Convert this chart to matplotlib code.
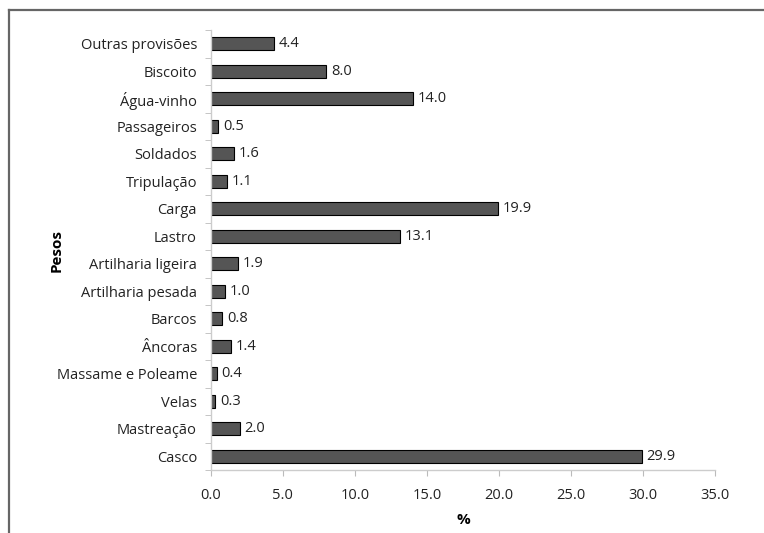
import numpy as np
import matplotlib.pyplot as plt
from matplotlib.lines import Line2D

plt.rcParams["font.family"] = ["Open Sans", "DejaVu Sans"]

categorias = [
    "Casco", "Mastreação", "Velas", "Massame e Poleame", "Âncoras",
    "Barcos", "Artilharia pesada", "Artilharia ligeira", "Lastro", "Carga",
    "Tripulação", "Soldados", "Passageiros", "Água-vinho", "Biscoito",
    "Outras provisões",
]
percentagens = [29.9, 2.0, 0.3, 0.4, 1.4, 0.8, 1.0, 1.9, 13.1, 19.9,
                1.1, 1.6, 0.5, 14.0, 8.0, 4.4]
xticks = [0, 5, 10, 15, 20, 25, 30, 35]

fig = plt.figure(figsize=(7.64, 5.33), dpi=100)
ax = fig.add_axes([0.276, 0.118, 0.66, 0.8255])

y = np.arange(len(categorias))
ax.barh(y, percentagens, height=0.48, color="#555555",
        edgecolor="black", linewidth=0.8)

for yi, v in zip(y, percentagens):
    ax.annotate(f"{v:.1f}", (v, yi), xytext=(3.5, 0), textcoords="offset points",
                va="center", ha="left", fontsize=10.5, color="#222222")

ax.set_ylim(-0.5, len(categorias) - 0.5)
ax.set_xlim(0, 35)
ax.set_yticks(y)
ax.set_yticklabels(categorias, fontsize=10.5, color="#222222")
ax.set_yticks(np.arange(-0.5, len(categorias), 1.0), minor=True)
ax.tick_params(axis="y", which="major", length=0, pad=10)
ax.tick_params(axis="y", which="minor", length=4, color="#bbbbbb", direction="out")
ax.set_xticks(xticks)
ax.set_xticklabels([f"{t:.1f}" for t in xticks], fontsize=10.5, color="#222222")
ax.tick_params(axis="x", length=4, color="#bbbbbb", pad=9)

for side in ("top", "right"):
    ax.spines[side].set_visible(False)
for side in ("left", "bottom"):
    ax.spines[side].set_color("#cccccc")
    ax.spines[side].set_linewidth(1.0)

ax.set_xlabel("%", fontsize=11, fontweight="bold", labelpad=7)
ax.set_ylabel("Pesos", fontsize=11, fontweight="bold")
ax.yaxis.set_label_coords(-0.292, 0.5)

# moldura: só os lados superior e esquerdo ficam visíveis
x0, y0 = 9 / 764, 1 - 10 / 533
fig.add_artist(Line2D([x0, 1.05], [y0, y0], transform=fig.transFigure,
                      color="#666666", linewidth=1.6))
fig.add_artist(Line2D([x0, x0], [-0.05, y0], transform=fig.transFigure,
                      color="#666666", linewidth=1.6))

fig.savefig("out.png", dpi=100)
